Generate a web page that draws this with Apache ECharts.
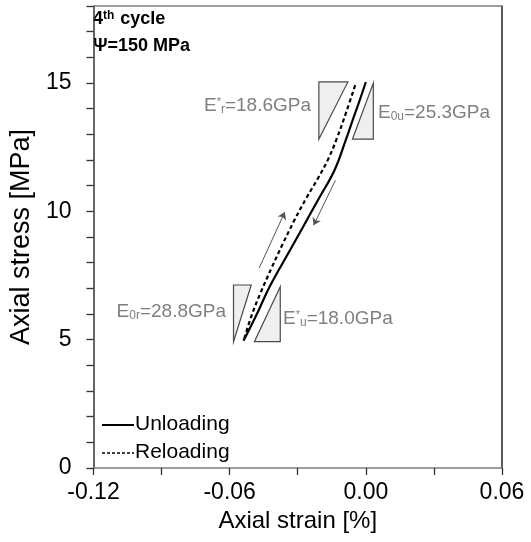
<!DOCTYPE html>
<html>
<head>
<meta charset="utf-8">
<script src="https://cdn.jsdelivr.net/npm/echarts@6/dist/echarts.min.js"></script>
<style>html,body{margin:0;padding:0;background:#fff}#c{width:531px;height:542px}</style>
</head>
<body>
<div id="c"></div>
<script>
// ---- data ----
const unloadStrain = [0.0000, -0.0030, -0.0060, -0.0087, -0.0138, -0.0207, -0.0270, -0.0333, -0.0424, -0.0480, -0.0539];
const unloadStress = [15.04, 14.25, 13.50, 12.81, 11.60, 10.50, 9.50, 8.50, 7.06, 6.00, 4.96];
const reloadStrain = [-0.0535, -0.0505, -0.0465, -0.0415, -0.0365, -0.0312, -0.0260, -0.0210, -0.0165, -0.0129, -0.0085, -0.0044];
const reloadStress = [5.05, 5.90, 6.80, 7.80, 8.75, 9.70, 10.55, 11.30, 12.05, 12.81, 13.90, 15.00];
// modulus triangles (vertices in strain %, stress MPa)
const triStrain = [
  [-0.0207, -0.0079, -0.0207],
  [0.0033, 0.0033, -0.0059],
  [-0.0583, -0.0505, -0.0583],
  [-0.0377, -0.0377, -0.0491]
];
const triStress = [
  [15.04, 15.04, 12.81],
  [15.00, 12.81, 12.81],
  [7.13, 7.13, 4.92],
  [7.06, 4.92, 4.92]
];
// direction arrows
const arrowUp = [[-0.0470, 7.79], [-0.0357, 9.97]];
const arrowDown = [[-0.0134, 11.21], [-0.0230, 9.46]];
const xTicks = [-0.12, -0.06, 0.00, 0.06];
const yTicks = [0, 5, 10, 15];
const legendNames = ['Unloading', 'Reloading'];

const FONT = "'Liberation Sans', Arial, sans-serif";
const zip = (a, b) => a.map((v, i) => [v, b[i]]);
const near = (v, list) => list.some(t => Math.abs(t - v) < 1e-9);

const chart = echarts.init(document.getElementById('c'), null, {renderer: 'canvas'});
const option = {
  animation: false,
  backgroundColor: '#fff',
  grid: {left: 90, right: 29, top: 6, bottom: 74, containLabel: false},
  xAxis: [{
    type: 'value', min: -0.12, max: 0.06, interval: 0.03,
    name: 'Axial strain [%]', nameLocation: 'middle', nameGap: 40,
    nameTextStyle: {fontFamily: FONT, fontSize: 24, color: '#000'},
    axisLine: {onZero: false, lineStyle: {color: '#7f7f7f', width: 1.5}},
    axisTick: {show: true, length: 7, lineStyle: {color: '#333', width: 1.3}},
    axisLabel: {fontFamily: FONT, fontSize: 23, color: '#000', margin: 13,
      formatter: v => near(v, xTicks) ? (Math.abs(v) < 1e-9 ? '0.00' : v.toFixed(2)) : ''},
    splitLine: {show: false}
  }, {
    type: 'value', position: 'top', min: -0.12, max: 0.06,
    axisLine: {onZero: false, lineStyle: {color: '#7f7f7f', width: 1.5}},
    axisTick: {show: false}, axisLabel: {show: false}, splitLine: {show: false}
  }],
  yAxis: [{
    type: 'value', min: 0, max: 18, interval: 1,
    name: 'Axial stress [MPa]', nameLocation: 'middle', nameGap: 48,
    nameTextStyle: {fontFamily: FONT, fontSize: 27, color: '#000'},
    axisLine: {onZero: false, lineStyle: {color: '#333', width: 1.5}},
    axisTick: {show: true, length: 7, lineStyle: {color: '#333', width: 1.3}},
    axisLabel: {fontFamily: FONT, fontSize: 23, color: '#000', margin: 22,
      formatter: v => near(v, yTicks) ? String(v) : ''},
    splitLine: {show: false}
  }, {
    type: 'value', position: 'right', min: 0, max: 18,
    axisLine: {onZero: false, lineStyle: {color: '#222', width: 1.5}},
    axisTick: {show: false}, axisLabel: {show: false}, splitLine: {show: false}
  }],
  series: [
    {
      name: 'Modulus', type: 'custom', silent: true, z: 1,
      data: triStrain.map((t, i) => [t[0], triStress[i][0]]),
      renderItem: (params, api) => {
        const i = params.dataIndex;
        const pts = triStrain[i].map((x, k) => api.coord([x, triStress[i][k]]));
        return {type: 'polygon', shape: {points: pts},
          style: {fill: '#efefef', stroke: '#4a4a4a', lineWidth: 1.2}};
      }
    },
    {
      name: legendNames[0], type: 'line', data: zip(unloadStrain, unloadStress),
      showSymbol: false, symbol: 'none', smooth: 0.4, z: 3,
      lineStyle: {color: '#000', width: 2.2, type: 'solid'}
    },
    {
      name: legendNames[1], type: 'line', data: zip(reloadStrain, reloadStress),
      showSymbol: false, symbol: 'none', smooth: 0.4, z: 3,
      lineStyle: {color: '#000', width: 2.2, type: [4, 3]}
    },
    {
      name: 'Arrows', type: 'lines', coordinateSystem: 'cartesian2d', silent: true, z: 2,
      symbol: ['none', 'arrow'], symbolSize: [0, 7],
      lineStyle: {color: '#555', width: 1, opacity: 1},
      data: [{coords: arrowUp}, {coords: arrowDown}]
    }
  ],
  graphic: [
    {type: 'text', left: 93, top: 10, style: {
      text: '4{sup|th} cycle', font: `bold 18px ${FONT}`, fill: '#000',
      rich: {sup: {fontSize: 12, fontWeight: 'bold', fontFamily: FONT, padding: [0, 1, 7, 0]}}
    }},
    {type: 'text', left: 93, top: 37, style: {text: 'Ψ=150 MPa', font: `bold 18px ${FONT}`, fill: '#000'}},
    {type: 'text', right: 220, top: 96, style: {
      text: 'E{sup|*}{sub|r}=18.6GPa', font: `19px ${FONT}`, fill: '#7f7f7f',
      rich: {sup: {fontSize: 11, fontFamily: FONT, fill: '#7f7f7f', padding: [0, 0, 8, 0]}, sub: {fontSize: 12, fontFamily: FONT, fill: '#7f7f7f', padding: [8, 0, 0, 0]}}
    }},
    {type: 'text', left: 378, top: 103, style: {
      text: 'E{sub|0u}=25.3GPa', font: `19px ${FONT}`, fill: '#7f7f7f',
      rich: {sub: {fontSize: 12, fontFamily: FONT, fill: '#7f7f7f', padding: [8, 0, 0, 0]}}
    }},
    {type: 'text', right: 305, top: 302, style: {
      text: 'E{sub|0r}=28.8GPa', font: `19px ${FONT}`, fill: '#7f7f7f',
      rich: {sub: {fontSize: 12, fontFamily: FONT, fill: '#7f7f7f', padding: [8, 0, 0, 0]}}
    }},
    {type: 'text', left: 283, top: 309, style: {
      text: 'E{sup|*}{sub|u}=18.0GPa', font: `19px ${FONT}`, fill: '#7f7f7f',
      rich: {sup: {fontSize: 11, fontFamily: FONT, fill: '#7f7f7f', padding: [0, 0, 8, 0]}, sub: {fontSize: 12, fontFamily: FONT, fill: '#7f7f7f', padding: [8, 0, 0, 0]}}
    }},
    // legend
    {type: 'line', shape: {x1: 102, y1: 425, x2: 134, y2: 425}, style: {stroke: '#000', lineWidth: 2}},
    {type: 'text', left: 135, top: 414, style: {text: legendNames[0], font: `21px ${FONT}`, fill: '#000'}},
    {type: 'line', shape: {x1: 102, y1: 453, x2: 134, y2: 453}, style: {stroke: '#000', lineWidth: 1.6, lineDash: [3, 2]}},
    {type: 'text', left: 135, top: 442, style: {text: legendNames[1], font: `21px ${FONT}`, fill: '#000'}}
  ]
};
chart.setOption(option);
</script>
</body>
</html>
